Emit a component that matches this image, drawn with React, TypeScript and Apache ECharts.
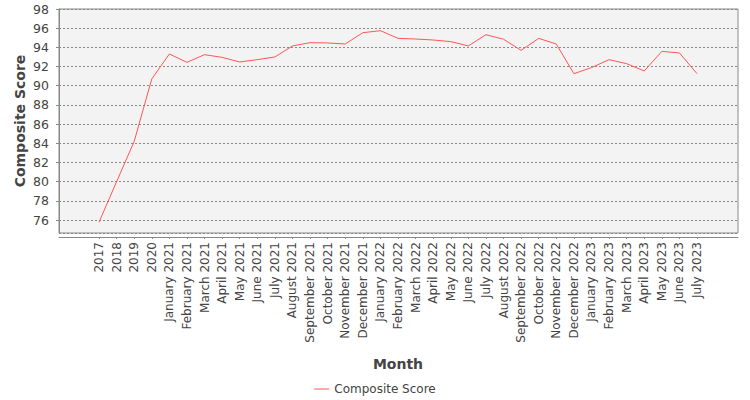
import { useEffect, useRef } from "react";
import * as echarts from "echarts";

const months = [
  "2017", "2018", "2019", "2020",
  "January 2021", "February 2021", "March 2021", "April 2021", "May 2021", "June 2021",
  "July 2021", "August 2021", "September 2021", "October 2021", "November 2021", "December 2021",
  "January 2022", "February 2022", "March 2022", "April 2022", "May 2022", "June 2022",
  "July 2022", "August 2022", "September 2022", "October 2022", "November 2022", "December 2022",
  "January 2023", "February 2023", "March 2023", "April 2023", "May 2023", "June 2023", "July 2023",
];

const compositeScore = [
  75.77, 80.0, 84.2, 90.7,
  93.31, 92.44, 93.24, 92.96, 92.48, 92.72,
  93.0, 94.15, 94.49, 94.46, 94.35, 95.53,
  95.74, 94.94, 94.87, 94.77, 94.6, 94.15,
  95.32, 94.85, 93.69, 94.94, 94.35, 91.26,
  91.89, 92.72, 92.3, 91.54, 93.58, 93.42, 91.26,
];

const Y_MIN = 74.65;
const Y_MAX = 98;

const FONT = "DejaVu Sans";
const TEXT = "#444444";

export default function App() {
  const chartRef = useRef<HTMLDivElement>(null);

  useEffect(() => {
    if (!chartRef.current) return;
    const chart = echarts.init(chartRef.current, null, { renderer: "svg" });

    chart.setOption({
      animation: false,
      backgroundColor: "#ffffff",
      textStyle: { fontFamily: FONT },
      // grid 0 = plot frame, grid 1 = the data area with category margins
      grid: [
        {
          left: 59, right: 12, top: 9, bottom: 167,
          show: true, backgroundColor: "#f3f3f3",
          borderColor: "#888888", borderWidth: 1,
        },
        { left: 99, right: 53, top: 9, bottom: 167 },
      ],
      xAxis: [
        {
          gridIndex: 0, type: "value", min: 0, max: 1, offset: 4,
          axisLine: { show: true, lineStyle: { color: "#888888" } },
          axisTick: { show: false }, axisLabel: { show: false },
          splitLine: { show: false },
        },
        {
          gridIndex: 1, type: "category", data: months, boundaryGap: false, offset: 4,
          name: "Month", nameLocation: "middle", nameGap: 120, nameMoveOverlap: false,
          nameTextStyle: { fontFamily: FONT, fontSize: 14, fontWeight: "bold", color: TEXT },
          axisLine: { show: false },
          axisTick: { show: true, length: 2, lineStyle: { color: "#888888" } },
          axisLabel: {
            rotate: 90, interval: 0, margin: 5,
            fontFamily: FONT, fontSize: 12, color: TEXT,
          },
          splitLine: { show: false },
        },
      ],
      yAxis: [
        {
          gridIndex: 0, type: "value", min: Y_MIN, max: Y_MAX,
          splitNumber: 12, minInterval: 2, maxInterval: 2, offset: 4,
          name: "Composite Score", nameLocation: "middle", nameGap: 28, nameMoveOverlap: false,
          nameTextStyle: { fontFamily: FONT, fontSize: 14, fontWeight: "bold", color: TEXT },
          axisLine: { show: true, lineStyle: { color: "#888888" } },
          axisTick: { show: true, length: 3, lineStyle: { color: "#888888" } },
          axisLabel: {
            showMinLabel: false, margin: 6,
            fontFamily: FONT, fontSize: 12.5, color: TEXT,
            formatter: (v: number) => String(Math.round(v)),
          },
          splitLine: {
            show: true,
            lineStyle: { color: "#888888", type: [2, 2], width: 1 },
          },
        },
        { gridIndex: 1, type: "value", min: Y_MIN, max: Y_MAX, show: false },
      ],
      legend: {
        top: 378, left: "center",
        icon: "rect", itemWidth: 15, itemHeight: 1, itemGap: 10,
        textStyle: { fontFamily: FONT, fontSize: 12, color: TEXT },
        data: ["Composite Score"],
      },
      series: [
        {
          name: "Composite Score", type: "line",
          xAxisIndex: 1, yAxisIndex: 1,
          data: compositeScore,
          symbol: "none",
          lineStyle: { color: "#ff5555", width: 1 },
          itemStyle: { color: "#ff5555" },
        },
      ],
    });

    return () => chart.dispose();
  }, []);

  return (
    <div
      ref={chartRef}
      style={{ position: "absolute", left: 0, top: 0, width: 750, height: 400 }}
    />
  );
}
